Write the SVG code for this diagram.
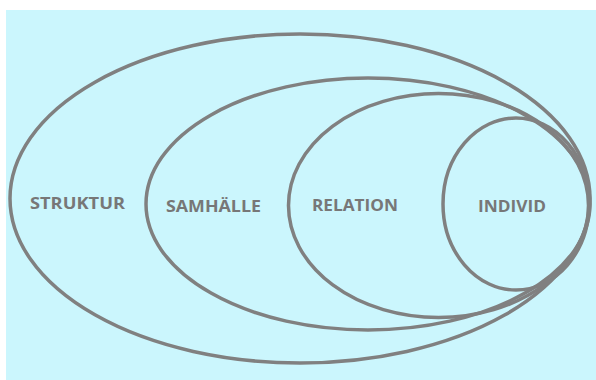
<svg xmlns="http://www.w3.org/2000/svg" width="596" height="380" viewBox="0 0 596 380">
<style>
.ring{fill:none;stroke:#808080;stroke-width:3.5}
.lbl{font-family:"Open Sans","Liberation Sans",sans-serif;font-weight:700;font-size:16.5px;fill:#777777}
</style>
<rect x="0" y="0" width="596" height="380" fill="#ffffff"/>
<rect x="6" y="10" width="590" height="370" fill="#cbf6fd"/>
<g id="struktur">
<ellipse class="ring" cx="300" cy="198.5" rx="290" ry="164.5"/>
<text class="lbl" x="30" y="209" textLength="95" lengthAdjust="spacingAndGlyphs">STRUKTUR</text>
</g>
<g id="samhalle">
<ellipse class="ring" cx="368" cy="204" rx="222" ry="126"/>
<text class="lbl" x="166" y="212" textLength="95" lengthAdjust="spacingAndGlyphs">SAMHÄLLE</text>
</g>
<g id="relation">
<ellipse class="ring" cx="438.5" cy="205.5" rx="150" ry="112"/>
<text class="lbl" x="312" y="211" textLength="86" lengthAdjust="spacingAndGlyphs">RELATION</text>
</g>
<g id="individ">
<ellipse class="ring" cx="516" cy="204" rx="73" ry="86"/>
<text class="lbl" x="478" y="212" textLength="68" lengthAdjust="spacingAndGlyphs">INDIVID</text>
</g>
<g id="connectors"/>
</svg>
